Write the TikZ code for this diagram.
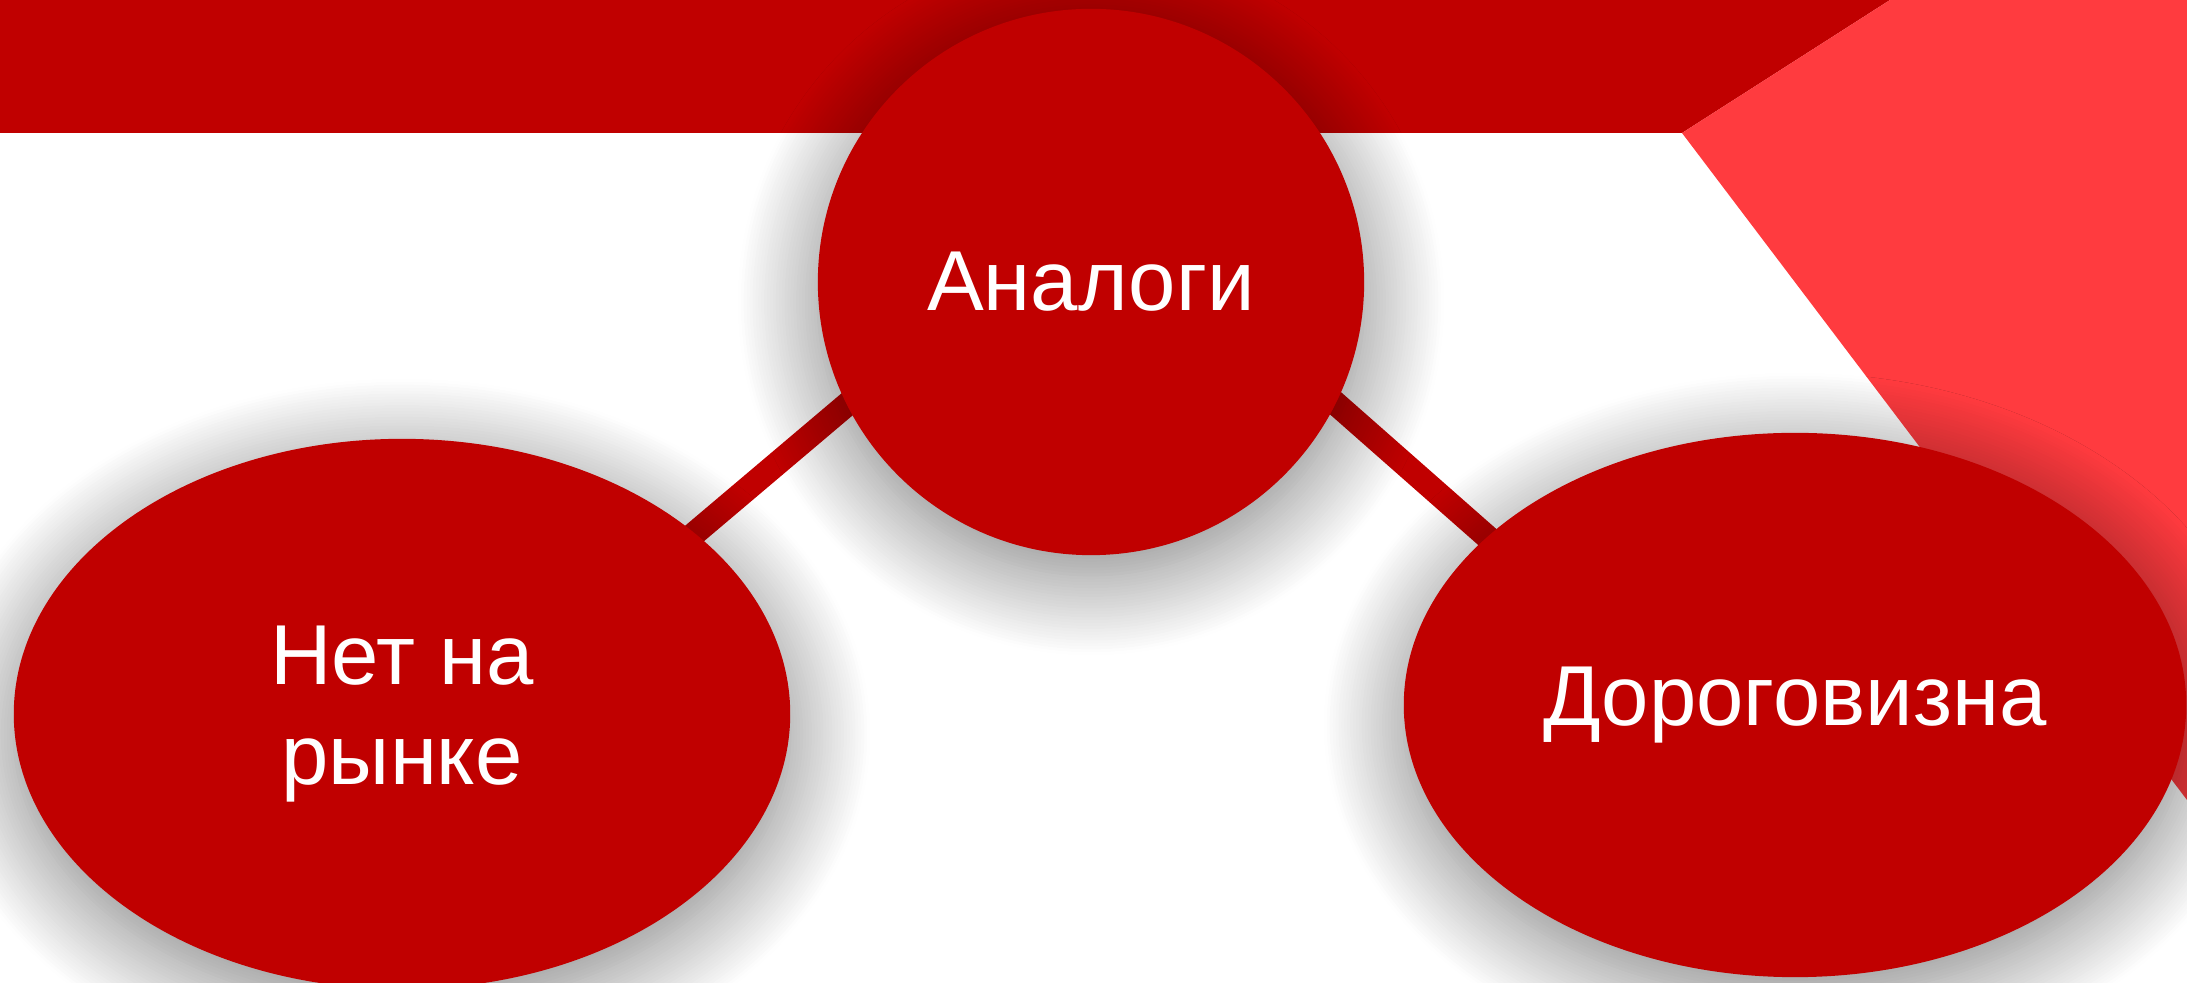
\documentclass[tikz,border=0pt]{standalone}
\usepackage{fontspec}
\setmainfont{Liberation Sans}
\usepackage{tikz}
\usetikzlibrary{backgrounds,calc,shapes.geometric,shadows.blur}
\definecolor{mainred}{RGB}{192,0,0}
\definecolor{lightred}{RGB}{255,59,63}
\tikzset{
  soft/.style={blur shadow={shadow xshift=0pt,shadow yshift=-0.2cm,shadow blur radius=0.8cm,shadow blur steps=28,shadow opacity=50}},
  bubble/.style={fill=mainred,text=white,align=center,inner sep=0pt,font=\fontsize{24.2}{28.2}\selectfont,soft},
  link/.style={draw=mainred,line width=0.24cm}
}

\begin{document}
\begin{tikzpicture}[x=0.01cm,y=-0.01cm]
\useasboundingbox (0,0) rectangle (2187,983);
\clip (0,0) rectangle (2187,983);
\node[bubble,circle,minimum size=5.46cm] (analog) at (1091,282) {Аналоги};
\node[bubble,ellipse,minimum width=7.76cm,minimum height=5.5cm] (absent) at (402,714) {Нет на\\рынке};
\node[bubble,ellipse,minimum width=7.82cm,minimum height=5.44cm] (costly) at (1795,705) {Дороговизна};
\begin{scope}[on background layer]
% banner and corner
\fill[mainred] (0,0) -- (1890,0) -- (1682,133) -- (0,133) -- cycle;
\fill[lightred] (1890,0) -- (2187,0) -- (2187,800) -- (1682,133) -- cycle;
% links
\draw[link] ([yshift=0.84cm]analog.center) -- ([yshift=-0.67cm]absent.center);
\draw[link] ([yshift=0.94cm]analog.center) -- ([yshift=-1.03cm]costly.center);
\end{scope}
\end{tikzpicture}
\end{document}
